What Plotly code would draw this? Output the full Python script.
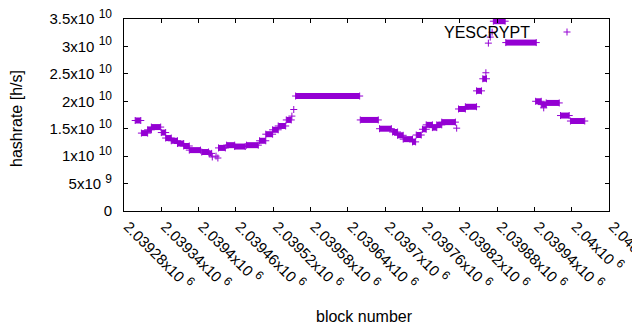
import plotly.graph_objects as go

# ---- data: runs of (nearly) constant estimated hashrate ----
run_start = [2039298, 2039308, 2039318, 2039324, 2039340, 2039347, 2039356, 2039366, 2039376,
             2039385, 2039405, 2039417, 2039432, 2039445, 2039458, 2039477, 2039498, 2039508,
             2039519, 2039528, 2039541, 2039556, 2039660, 2039691, 2039712, 2039720, 2039729,
             2039744, 2039750, 2039760, 2039766, 2039776, 2039783, 2039791, 2039818, 2039829,
             2039847, 2039857, 2039874, 2039894, 2039942, 2039951, 2039959, 2039982, 2039998]
run_end = [2039307, 2039318, 2039324, 2039339, 2039347, 2039356, 2039366, 2039376, 2039385,
           2039403, 2039416, 2039421, 2039443, 2039458, 2039475, 2039496, 2039508, 2039519,
           2039528, 2039540, 2039549, 2039659, 2039689, 2039710, 2039720, 2039729, 2039744,
           2039749, 2039758, 2039766, 2039776, 2039783, 2039791, 2039813, 2039829, 2039847,
           2039855, 2039863, 2039893, 2039943, 2039951, 2039959, 2039980, 2039996, 2040021]
run_value = [1.65e10, 1.42e10, 1.48e10, 1.53e10, 1.43e10, 1.33e10, 1.28e10, 1.23e10, 1.185e10,
             1.11e10, 1.075e10, 1.05e10, 1.15e10, 1.20e10, 1.175e10, 1.20e10, 1.28e10, 1.40e10,
             1.48e10, 1.55e10, 1.66e10, 2.096e10, 1.66e10, 1.50e10, 1.44e10, 1.38e10, 1.31e10,
             1.26e10, 1.385e10, 1.49e10, 1.57e10, 1.52e10, 1.57e10, 1.62e10, 1.86e10, 1.90e10,
             2.19e10, 2.41e10, 3.46e10, 3.07e10, 2.00e10, 1.94e10, 1.97e10, 1.74e10, 1.64e10]

# isolated blocks
pt_block = [2039422, 2039428, 2039431, 2039550, 2039553, 2039815, 2039862, 2039866, 2039869,
            2039872, 2039955]
pt_value = [0.985e10, 1.00e10, 0.966e10, 1.73e10, 1.85e10, 1.51e10, 2.52e10, 3.06e10, 3.17e10,
            3.26e10, 1.88e10]

SUP = "<sup><span style='font-size:12px'>%s</span></sup>"
x_tick_vals = [2039280, 2039340, 2039400, 2039460, 2039520, 2039580, 2039640,
               2039700, 2039760, 2039820, 2039880, 2039940, 2040000, 2040060]
x_tick_mant = ["2.03928", "2.03934", "2.0394", "2.03946", "2.03952", "2.03958", "2.03964",
               "2.0397", "2.03976", "2.03982", "2.03988", "2.03994", "2.04", "2.04006"]
x_tick_text = [m + "x10 " + SUP % "6" for m in x_tick_mant]
y_tick_vals = [0, 5e9, 1e10, 1.5e10, 2e10, 2.5e10, 3e10, 3.5e10]
y_tick_text = ["0", "5x10 " + SUP % "9", "1x10 " + SUP % "10", "1.5x10 " + SUP % "10",
               "2x10 " + SUP % "10", "2.5x10 " + SUP % "10", "3x10 " + SUP % "10",
               "3.5x10 " + SUP % "10"]

COLOR = "#9400d3"
FONT = "Liberation Sans"
FS = 15

lx, ly = [], []
for s, e, v in zip(run_start, run_end, run_value):
    lx += [s, e, None]
    ly += [v, v, None]

mx = list(run_start) + list(run_end) + list(pt_block)
my = list(run_value) + list(run_value) + list(pt_value)

fig = go.Figure()
fig.add_trace(go.Scatter(x=lx, y=ly, mode="lines", line=dict(color=COLOR, width=6),
                         connectgaps=False, showlegend=False, hoverinfo="skip"))
fig.add_trace(go.Scatter(x=mx, y=my, mode="markers", name="YESCRYPT", showlegend=False,
                         marker=dict(symbol="cross-thin", size=5, color=COLOR,
                                     line=dict(color=COLOR, width=1))))

axis_common = dict(showline=True, linecolor="black", linewidth=1, mirror="ticks",
                   ticks="inside", ticklen=4, tickcolor="black", tickwidth=1,
                   showgrid=False, zeroline=False, automargin=False,
                   ticklabeloverflow="allow",
                   tickfont=dict(family=FONT, size=FS, color="black"))

fig.update_xaxes(range=[2039280, 2040060], tickmode="array", tickvals=x_tick_vals,
                 ticktext=x_tick_text, tickangle=45, ticklabelshift=4, **axis_common)
fig.update_yaxes(range=[0, 3.5e10], tickmode="array", tickvals=y_tick_vals,
                 ticktext=y_tick_text, ticklabelstandoff=8, **axis_common)

# plot area in reference pixels: x 124..609, y 19..211
PW, PH = 485.0, 192.0
def px(xp):
    return (xp - 124) / PW
def py(yp):
    return (211 - yp) / PH

fig.add_annotation(text="block number", x=px(364), y=py(316), xref="paper", yref="paper",
                   showarrow=False, xanchor="center", yanchor="middle",
                   font=dict(family=FONT, size=FS + 1, color="black"))
fig.add_annotation(text="hashrate [h/s]", x=px(17), y=py(119), xref="paper", yref="paper",
                   showarrow=False, xanchor="center", yanchor="middle", textangle=-90,
                   font=dict(family=FONT, size=FS + 1, color="black"))
# key (gnuplot style: text then sample)
fig.add_annotation(text="YESCRYPT", x=px(532), y=py(32), xref="paper", yref="paper",
                   showarrow=False, xanchor="right", yanchor="middle",
                   font=dict(family=FONT, size=FS + 1, color="black"))
fig.add_shape(type="line", xref="paper", yref="paper", x0=px(563.5), x1=px(570.5),
              y0=py(32), y1=py(32), line=dict(color=COLOR, width=1))
fig.add_shape(type="line", xref="paper", yref="paper", x0=px(567), x1=px(567),
              y0=py(28.5), y1=py(35.5), line=dict(color=COLOR, width=1))

# the page body adds an 8px offset; compensate in the margins
OFF = 8
fig.update_layout(width=640, height=330,
                  margin=dict(l=124 - OFF, r=31 + OFF, t=19 - OFF, b=119 + OFF),
                  paper_bgcolor="white", plot_bgcolor="white",
                  font=dict(family=FONT, size=FS, color="black"))

fig.write_html("out.html")
